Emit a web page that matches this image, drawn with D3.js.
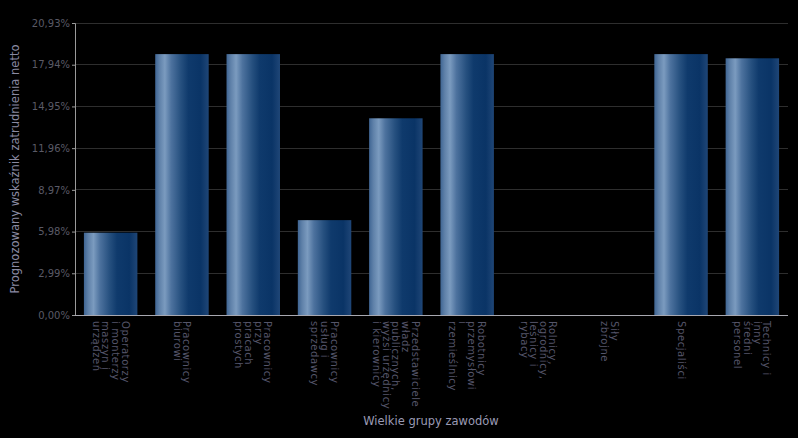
<!DOCTYPE html>
<html><head><meta charset="utf-8">
<script src="https://cdn.jsdelivr.net/npm/d3@7"></script>
<style>
html,body{margin:0;padding:0;background:#000;}
svg{display:block;}
</style></head>
<body>
<svg id="chart" width="798" height="438"></svg>
<script>
const categories = [
  ["Operatorzy","i monterzy","maszyn i","urządzeń"],
  ["Pracownicy","biurowi"],
  ["Pracownicy","przy","pracach","prostych"],
  ["Pracownicy","usług i","sprzedawcy"],
  ["Przedstawiciele","władz","publicznych,","wyżsi urzędnicy","i kierownicy"],
  ["Robotnicy","przemysłowi","i","rzemieślnicy"],
  ["Rolnicy,","ogrodnicy,","leśnicy i","rybacy"],
  ["Siły","zbrojne"],
  ["Specjaliści"],
  ["Technicy i","inny","średni","personel"]
];
const values = [5.9, 18.7, 18.7, 6.8, 14.1, 18.7, null, null, 18.7, 18.4];
const yTicks = [0, 2.99, 5.98, 8.97, 11.96, 14.95, 17.94, 20.93];
const yTitle = "Prognozowany wskaźnik zatrudnienia netto";
const xTitle = "Wielkie grupy zawodów";

const svg = d3.select("#chart");
const m = {left:75, right:10, top:23, bottom:123};
const W = 798, H = 438;
const iw = W - m.left - m.right, ih = H - m.top - m.bottom;

const defs = svg.append("defs");
const grad = defs.append("linearGradient").attr("id","barGrad")
  .attr("x1","0%").attr("x2","100%").attr("y1","0%").attr("y2","0%");
[["0%","#3f6593"],["8%","#5f81a9"],["18%","#7b9bbf"],["30%","#4d729e"],
 ["48%","#26507f"],["62%","#0f3a6c"],["85%","#0a3466"],["100%","#1f4677"]]
 .forEach(([o,c])=>grad.append("stop").attr("offset",o).attr("stop-color",c));

const g = svg.append("g").attr("transform",`translate(${m.left},${m.top})`);

const x = d3.scaleBand().domain(d3.range(categories.length)).range([0, iw])
  .paddingInner(0.25).paddingOuter(0.125);
const y = d3.scaleLinear().domain([0, 20.93]).range([ih, 0]);

// gridlines
g.append("g").selectAll("line").data(yTicks.slice(1)).join("line")
  .attr("x1",0).attr("x2",iw).attr("y1",d=>y(d)).attr("y2",d=>y(d))
  .attr("stroke","#2e2e2e").attr("stroke-width",1).attr("shape-rendering","crispEdges");

// bars
g.append("g").selectAll("rect").data(values.map((v,i)=>({v,i})).filter(d=>d.v!=null)).join("rect")
  .attr("x",d=>x(d.i)).attr("width",x.bandwidth())
  .attr("y",d=>y(d.v)).attr("height",d=>ih - y(d.v))
  .attr("fill","url(#barGrad)");

// y axis
const fmt = d => d.toFixed(2).replace(".",",") + "%";
const yAxis = g.append("g").call(d3.axisLeft(y).tickValues(yTicks).tickFormat(fmt).tickSize(3).tickPadding(2));
yAxis.select(".domain").attr("stroke","#9a9a9a");
yAxis.selectAll(".tick line").attr("stroke","#9a9a9a");
yAxis.selectAll("text").attr("fill","#5a5a66").attr("font-family","DejaVu Sans, sans-serif").attr("font-size","10px");

// x axis line
g.append("line").attr("x1",0).attr("x2",iw).attr("y1",ih+0.5).attr("y2",ih+0.5)
  .attr("stroke","#a8a8b0").attr("stroke-width",1);

// category labels (rotated 90deg clockwise)
const lh = 9.6;
const lab = g.append("g").selectAll("text").data(categories.map((c,i)=>({c,i}))).join("text")
  .attr("transform",d=>{
    const cx = x(d.i) + x.bandwidth()/2 + (d.c.length-1)*lh/2 - 3.5;
    return `translate(${cx},${ih+6}) rotate(90)`;
  })
  .attr("font-family","DejaVu Sans, sans-serif").attr("font-size","10px")
  .attr("letter-spacing","0.6px")
  .attr("fill","#55556a");
lab.each(function(d){
  const t = d3.select(this);
  d.c.forEach((line,k)=>{
    t.append("tspan").attr("x",0).attr("y",k*lh).text(line);
  });
});

// titles
svg.append("text").attr("transform",`translate(19,${m.top+ih/2}) rotate(-90)`)
  .attr("text-anchor","middle").attr("font-family","DejaVu Sans, sans-serif")
  .attr("font-size","11.5px").attr("fill","#8a8aa2").text(yTitle);
svg.append("text").attr("x",431).attr("y",425)
  .attr("text-anchor","middle").attr("font-family","DejaVu Sans, sans-serif")
  .attr("font-size","11.5px").attr("fill","#9a9ab4").text(xTitle);
</script>
</body></html>
